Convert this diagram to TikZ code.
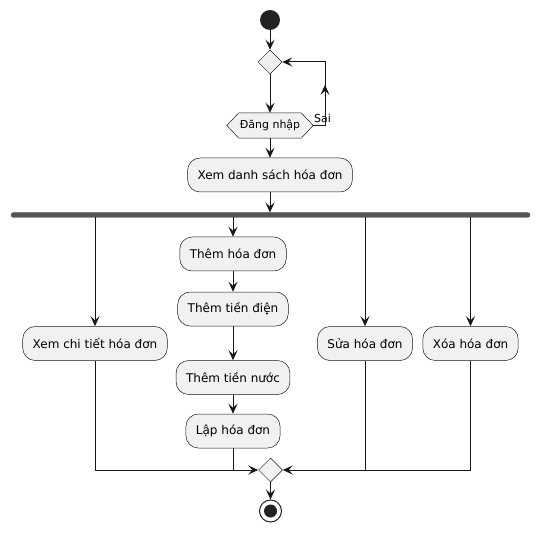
\documentclass[tikz,border=0pt]{standalone}
\usepackage{fontspec}
\setmainfont{DejaVu Sans}
\usetikzlibrary{shapes.geometric,arrows.meta,calc,backgrounds}
\definecolor{boxfill}{HTML}{F1F1F1}
\definecolor{lineclr}{HTML}{181818}
\definecolor{barclr}{HTML}{555555}
\definecolor{dotclr}{HTML}{222222}
\tikzset{
  act/.style={draw=lineclr, line width=0.5pt, fill=boxfill, rounded corners=12.5pt,
    minimum height=34pt, inner xsep=10pt, font=\fontsize{12}{14}\selectfont, text=black},
  dmd/.style={diamond, draw=lineclr, line width=0.5pt, fill=boxfill, minimum width=24pt,
    minimum height=24pt, inner sep=0pt, aspect=1},
  arr/.style={draw=lineclr, line width=1pt, -{Stealth[length=10pt,width=9pt,inset=4pt]}},
  ln/.style={draw=lineclr, line width=1pt},
}
\begin{document}
\begin{tikzpicture}[x=1pt,y=-1pt]
\useasboundingbox (0,0) rectangle (540,534);
% start
\node[circle, fill=dotclr, minimum size=20pt, inner sep=0pt] (start) at (270,20) {};
\node[dmd] (d1) at (270,62) {};
% login hexagon
\node[font=\fontsize{11}{13}\selectfont, minimum width=62pt, minimum height=25pt, inner sep=0pt] (login) at (270,125.5) {Đăng nhập};
\begin{scope}[on background layer]
\draw[draw=lineclr, line width=0.5pt, fill=boxfill]
  ($(login.west)+(-12,0)$) -- (login.north west) -- (login.north east) -- ($(login.east)+(12,0)$)
  -- (login.south east) -- (login.south west) -- cycle;
\end{scope}
\coordinate (le) at ($(login.east)+(12,0)$);
\coordinate (l1) at (325,125.5);
\coordinate (l2) at (325,62);
\node[anchor=west, inner sep=1pt, font=\fontsize{11}{13}\selectfont] (sai) at (313,118) {Sai};
\node[act] (list) at (270,175) {Xem danh sách hóa đơn};
% fork bar
\draw[fill=barclr, draw=barclr, rounded corners=2.5pt] (11,212.5) rectangle (530,217.5);
\coordinate (bar) at (270,212.5);
% branches
\node[act] (ct) at (95,343.5) {Xem chi tiết hóa đơn};
\node[act] (them) at (233,254) {Thêm hóa đơn};
\node[act] (dien) at (233,309) {Thêm tiền điện};
\node[act] (nuoc) at (233,377.5) {Thêm tiền nước};
\node[act] (lap) at (233,431) {Lập hóa đơn};
\node[act] (sua) at (365,343.5) {Sửa hóa đơn};
\node[act] (xoa) at (470.5,343.5) {Xóa hóa đơn};
\coordinate (b1) at (95,217.5);
\coordinate (b2) at (233,217.5);
\coordinate (b3) at (365,217.5);
\coordinate (b4) at (470.5,217.5);
\node[dmd] (d2) at (270.5,470) {};
% end
\node[circle, draw=dotclr, line width=1pt, fill=white, minimum size=22pt, inner sep=0pt] (stop) at (270.5,511) {};
\node[circle, fill=dotclr, minimum size=13pt, inner sep=0pt] at (stop) {};
% connectors
\draw[arr] (start) -- (d1);
\draw[arr] (d1) -- (login);
\draw[arr] (le) -- (l1) -- ($(l1)!0.64!(l2)$);
\draw[arr] ($(l1)!0.6!(l2)$) -- (l2) -- (d1.east);
\draw[arr] (login) -- (list);
\draw[arr] (list) -- (bar);
\draw[arr] (b1) -- (ct);
\draw[arr] (b2) -- (them);
\draw[arr] (them) -- (dien);
\draw[arr] (dien) -- (nuoc);
\draw[arr] (nuoc) -- (lap);
\draw[arr] (b3) -- (sua);
\draw[arr] (b4) -- (xoa);
\draw[arr] (ct.south) |- (d2.west);
\draw[ln] (lap.south) -- (lap.south |- d2.west);
\draw[arr] (xoa.south) |- (d2.east);
\draw[ln] (sua.south) -- (sua.south |- d2.east);
\draw[arr] (d2) -- (stop);
\end{tikzpicture}
\end{document}
